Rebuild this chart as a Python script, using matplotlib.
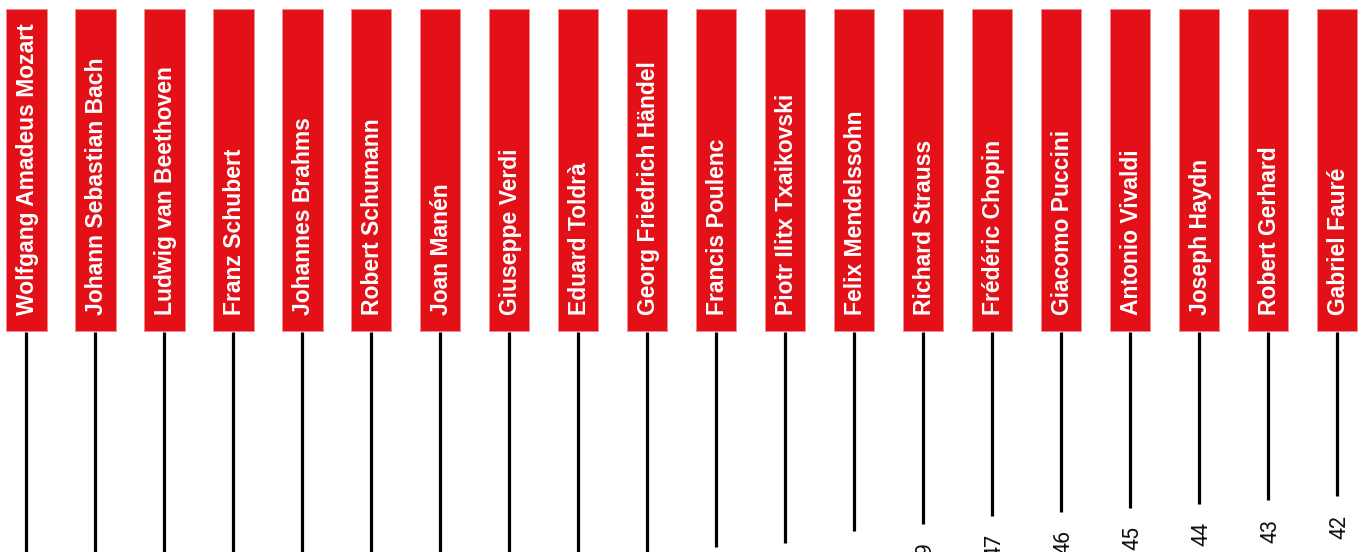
import matplotlib
matplotlib.use("Agg")
import matplotlib.pyplot as plt
import numpy as np

# 1. Data
composers = [
    "Wolfgang Amadeus Mozart", "Johann Sebastian Bach", "Ludwig van Beethoven",
    "Franz Schubert", "Johannes Brahms", "Robert Schumann", "Joan Manén",
    "Giuseppe Verdi", "Eduard Toldrà", "Georg Friedrich Händel", "Francis Poulenc",
    "Piotr Ilitx Txaikovski", "Felix Mendelssohn", "Richard Strauss",
    "Frédéric Chopin", "Giacomo Puccini", "Antonio Vivaldi", "Joseph Haydn",
    "Robert Gerhard", "Gabriel Fauré",
]
# first ten run off the bottom of the picture: estimated
counts = [150, 120, 105, 84, 76, 70, 66, 63, 60, 58, 55,
          54, 51, 49, 47, 46, 45, 44, 43, 42]

red = "#e31017"

# 2. Figure, axes fill the whole canvas
fig = plt.figure(figsize=(13.61, 5.52), dpi=100)
ax = fig.add_axes([0, 0, 1, 1])
ax.axis("off")

x = np.arange(len(composers))
ax.set_xlim(-0.384, 19.341)
ax.set_ylim(56.23, -84.22)   # values grow downwards

box_h = 81.9
ax.bar(x, -box_h, bottom=0, width=0.58, color=red,
       edgecolor="#f08a8d", linewidth=0.6, zorder=2)
ax.vlines(x, 0.3, counts, color="black", linewidth=2.3, zorder=1)

for xi, name, v in zip(x, composers, counts):
    ax.text(xi + 0.01, -4.1, name, rotation=90, rotation_mode="anchor",
            ha="left", va="center", color="white", fontsize=16.5,
            fontweight="bold", family=["Liberation Sans", "DejaVu Sans"])
    if v < 51:
        ax.text(xi + 0.03, v + 4.7, str(v), rotation=90, ha="center", va="top",
                color="#111111", fontsize=15.5,
                family=["Roboto", "DejaVu Sans"])

# 3. Save
fig.savefig("out.png", dpi=100)
